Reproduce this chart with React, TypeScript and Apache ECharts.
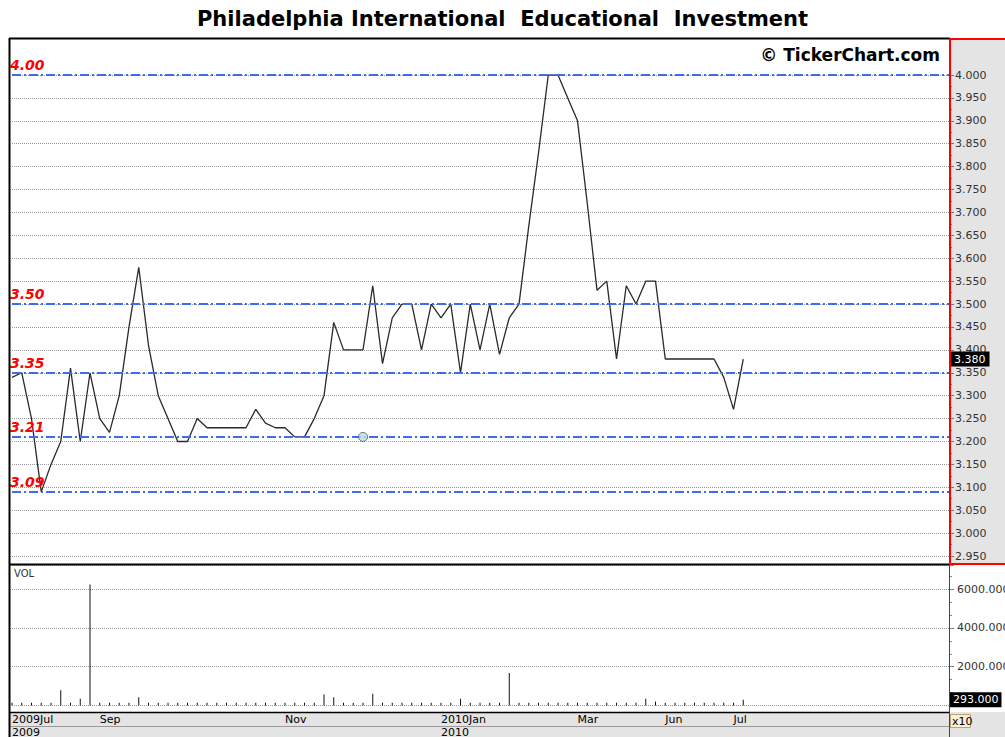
import React, { useEffect, useRef } from "react";
import * as echarts from "echarts";

const TITLE = "Philadelphia International  Educational  Investment";

// closing prices, one per trading session shown (index = position on the x axis)
const prices = [
  3.34, 3.35, 3.25, 3.09, 3.15, 3.2, 3.36, 3.2, 3.35, 3.25,
  3.22, 3.3, 3.45, 3.58, 3.41, 3.3, 3.25, 3.2, 3.2, 3.25,
  3.23, 3.23, 3.23, 3.23, 3.23, 3.27, 3.24, 3.23, 3.23, 3.21,
  3.21, 3.25, 3.3, 3.46, 3.4, 3.4, 3.4, 3.54, 3.37, 3.47,
  3.5, 3.5, 3.4, 3.5, 3.47, 3.5, 3.35, 3.5, 3.4, 3.5,
  3.39, 3.47, 3.5, 3.67, 3.83, 4.0, 4.0, 3.95, 3.9, 3.72,
  3.53, 3.55, 3.38, 3.54, 3.5, 3.55, 3.55, 3.38, 3.38, 3.38,
  3.38, 3.38, 3.38, 3.34, 3.27, 3.38,
];

// volume (x10)
const volumes = [
  140, 140, 140, 140, 140, 780, 140, 350, 6240, 140,
  140, 140, 140, 430, 140, 140, 140, 140, 140, 140,
  140, 140, 140, 140, 140, 140, 140, 140, 140, 140,
  140, 140, 570, 430, 140, 140, 140, 600, 140, 140,
  140, 140, 140, 140, 140, 140, 345, 140, 140, 140,
  140, 1680, 140, 140, 140, 140, 140, 140, 140, 140,
  140, 140, 140, 140, 140, 345, 200, 140, 140, 140,
  140, 140, 140, 140, 140, 293,
];

const monthIndex = [0, 9, 28, 44, 58, 67, 74];
const monthText = ["2009Jul", "Sep", "Nov", "2010Jan", "Mar", "Jun", "Jul"];
const yearIndex = [0, 44];
const yearText = ["2009", "2010"];

const levels = [4.0, 3.5, 3.35, 3.21, 3.09];
const levelText = ["4.00", "3.50", "3.35", "3.21", "3.09"];

const eventIndex = [36];
const eventPrice = [3.21];

const PRICE_MIN = 2.95;
const PRICE_MAX = 4.0;
const PRICE_STEP = 0.05;
const PRICE_MINOR_STEP = 0.025;
const VOL_MIN = 0;
const VOL_MAX = 7242;
const VOL_STEP = 2000;
const VOL_MINOR_STEP = 2000 / 3;
const X_MAX = 96.1;

const FONT = "DejaVu Sans";

export default function App() {
  const ref = useRef<HTMLDivElement>(null);

  useEffect(() => {
    if (!ref.current) return;
    const chart = echarts.init(ref.current, null, { renderer: "svg" });
    const lastPrice = prices[prices.length - 1];
    const lastVol = volumes[volumes.length - 1];

    const labelAt = (idx: number[], txt: string[]) => (v: number) => {
      const r = Math.round(v);
      const k = idx.indexOf(r);
      return k >= 0 && Math.abs(v - r) < 1e-6 ? txt[k] : "";
    };

    const minorAxis = (gridIndex: number, min: number, max: number, interval: number) => ({
      gridIndex,
      type: "value",
      position: "right",
      min,
      max,
      interval,
      axisLine: { show: false, onZero: false },
      axisTick: { show: true, length: 3, lineStyle: { color: "#888" } },
      splitLine: { show: false },
      axisLabel: { show: false },
    });

    const option: any = {
      animation: false,
      backgroundColor: "#ffffff",
      title: {
        text: TITLE,
        left: "center",
        top: 3,
        textStyle: { fontFamily: FONT, fontWeight: "bold", fontSize: 21, color: "#000" },
      },
      grid: [
        { left: 12, top: 75, width: 937, height: 481, outerBoundsMode: "none", containLabel: false },
        { left: 12, top: 565, width: 937, height: 140.5, outerBoundsMode: "none", containLabel: false },
      ],
      xAxis: [
        { gridIndex: 0, type: "value", min: 0, max: X_MAX, show: false, axisLine: { onZero: false } },
        {
          gridIndex: 1,
          type: "value",
          min: 0,
          max: X_MAX,
          interval: 1,
          position: "bottom",
          offset: 6.5,
          axisLine: { show: false, onZero: false },
          axisTick: { show: false },
          splitLine: { show: false },
          axisLabel: {
            formatter: labelAt(monthIndex, monthText),
            align: "left",
            margin: 2,
            fontSize: 11,
            fontFamily: FONT,
            color: "#000",
          },
        },
        {
          gridIndex: 1,
          type: "value",
          min: 0,
          max: X_MAX,
          interval: 1,
          position: "bottom",
          offset: 19.5,
          axisLine: { show: false, onZero: false },
          axisTick: { show: false },
          splitLine: { show: false },
          axisLabel: {
            formatter: labelAt(yearIndex, yearText),
            align: "left",
            margin: 2,
            fontSize: 11,
            fontFamily: FONT,
            color: "#000",
          },
        },
      ],
      yAxis: [
        {
          gridIndex: 0,
          type: "value",
          position: "right",
          min: PRICE_MIN,
          max: PRICE_MAX,
          interval: PRICE_STEP,
          axisLine: { show: false, onZero: false },
          axisTick: { show: true, length: 5, lineStyle: { color: "#777" } },
          splitLine: { show: true, lineStyle: { color: "#9a9a9a", type: "dotted", width: 1 } },
          axisLabel: {
            formatter: (v: number) => v.toFixed(3),
            margin: 6,
            fontSize: 11,
            fontFamily: FONT,
            color: "#333",
          },
        },
        {
          gridIndex: 1,
          type: "value",
          position: "right",
          min: VOL_MIN,
          max: VOL_MAX,
          interval: VOL_STEP,
          axisLine: { show: false, onZero: false },
          axisTick: { show: true, length: 5, lineStyle: { color: "#777" } },
          splitLine: { show: true, lineStyle: { color: "#9a9a9a", type: "dotted", width: 1 } },
          axisLabel: {
            formatter: (v: number) => (v > 0 && v % VOL_STEP === 0 ? v.toFixed(3) : ""),
            margin: 8,
            fontSize: 11,
            fontFamily: FONT,
            color: "#333",
          },
        },
        minorAxis(0, PRICE_MIN, PRICE_MAX, PRICE_MINOR_STEP),
        minorAxis(1, VOL_MIN, VOL_MAX, VOL_MINOR_STEP),
      ],
      series: [
        {
          type: "line",
          xAxisIndex: 0,
          yAxisIndex: 0,
          data: prices.map((v, i) => [i, v]),
          showSymbol: false,
          symbol: "none",
          lineStyle: { color: "#2a2a2a", width: 1.3 },
          z: 3,
          markLine: {
            silent: true,
            symbol: "none",
            lineStyle: { color: "#3d6cf2", width: 2, type: [9, 3, 2, 3] },
            label: {
              show: true,
              position: "insideStartTop",
              formatter: "{b}",
              color: "#ff0000",
              fontStyle: "italic",
              fontWeight: "bold",
              fontSize: 14,
              fontFamily: FONT,
              distance: [-2, 3],
            },
            data: levels.map((y, i) => ({ yAxis: y, name: levelText[i] })),
          },
        },
        {
          type: "scatter",
          xAxisIndex: 0,
          yAxisIndex: 0,
          data: eventIndex.map((x, i) => [x, eventPrice[i]]),
          symbol: "circle",
          symbolSize: 9,
          itemStyle: { color: "#b4dde8", borderColor: "#555", borderWidth: 1 },
          z: 5,
          markLine: {
            silent: true,
            symbol: "none",
            z: 20,
            lineStyle: { color: "rgba(0,0,0,0)", width: 0 },
            label: {
              show: true,
              position: "end",
              distance: 1,
              formatter: lastPrice.toFixed(3),
              backgroundColor: "#000",
              color: "#fff",
              padding: [2, 4, 2, 4],
              fontSize: 11,
              fontFamily: FONT,
            },
            data: [{ yAxis: lastPrice }],
          },
        },
        {
          type: "bar",
          xAxisIndex: 1,
          yAxisIndex: 1,
          data: volumes.map((v, i) => [i, v]),
          barWidth: 1,
          itemStyle: { color: "#111" },
          markLine: {
            silent: true,
            symbol: "none",
            z: 20,
            lineStyle: { color: "rgba(0,0,0,0)", width: 0 },
            label: {
              show: true,
              position: "end",
              distance: 1,
              formatter: lastVol.toFixed(3),
              backgroundColor: "#000",
              color: "#fff",
              padding: [2, 3, 2, 3],
              fontSize: 11,
              fontFamily: FONT,
            },
            data: [{ yAxis: lastVol }],
          },
        },
      ],
      graphic: [
        { type: "rect", z: -10, shape: { x: 949, y: 38, width: 56, height: 527 }, style: { fill: "#e4e4e4" } },
        { type: "rect", z: -10, shape: { x: 9, y: 712, width: 996, height: 25 }, style: { fill: "#e4e4e4" } },
        { type: "line", z: 50, shape: { x1: 10, y1: 726.5, x2: 949, y2: 726.5 }, style: { stroke: "#9a9a9a", lineWidth: 1 } },
        { type: "line", z: 50, shape: { x1: 9, y1: 38.5, x2: 950, y2: 38.5 }, style: { stroke: "#000", lineWidth: 2 } },
        { type: "line", z: 50, shape: { x1: 9, y1: 564.5, x2: 950, y2: 564.5 }, style: { stroke: "#000", lineWidth: 2 } },
        { type: "line", z: 50, shape: { x1: 9, y1: 712.5, x2: 950, y2: 712.5 }, style: { stroke: "#000", lineWidth: 1.5 } },
        { type: "line", z: 50, shape: { x1: 9.5, y1: 38, x2: 9.5, y2: 737 }, style: { stroke: "#000", lineWidth: 2 } },
        { type: "line", z: 50, shape: { x1: 949.5, y1: 565, x2: 949.5, y2: 737 }, style: { stroke: "#444", lineWidth: 1 } },
        { type: "rect", z: 51, shape: { x: 950, y: 39, width: 60, height: 525 }, style: { fill: "none", stroke: "#ff0000", lineWidth: 2 } },
        {
          type: "text",
          z: 50,
          x: 940,
          y: 55,
          style: { text: "© TickerChart.com", fill: "#000", font: `bold 17px "${FONT}"`, align: "right", verticalAlign: "middle" },
        },
        {
          type: "text",
          z: 50,
          x: 14,
          y: 573,
          style: { text: "VOL", fill: "#333", font: `10px "${FONT}"`, align: "left", verticalAlign: "middle" },
        },
        { type: "rect", z: 52, shape: { x: 950.5, y: 714.5, width: 20, height: 13 }, style: { fill: "#fdf0d5", stroke: "#b8a27a", lineWidth: 1 } },
        {
          type: "text",
          z: 53,
          x: 952,
          y: 721,
          style: { text: "x10", fill: "#000", font: `11px "${FONT}"`, align: "left", verticalAlign: "middle" },
        },
      ],
    };

    chart.setOption(option);
    return () => chart.dispose();
  }, []);

  return (
    <div
      ref={ref}
      style={{ position: "absolute", left: 0, top: 0, width: 1005, height: 737, background: "#fff" }}
    />
  );
}
